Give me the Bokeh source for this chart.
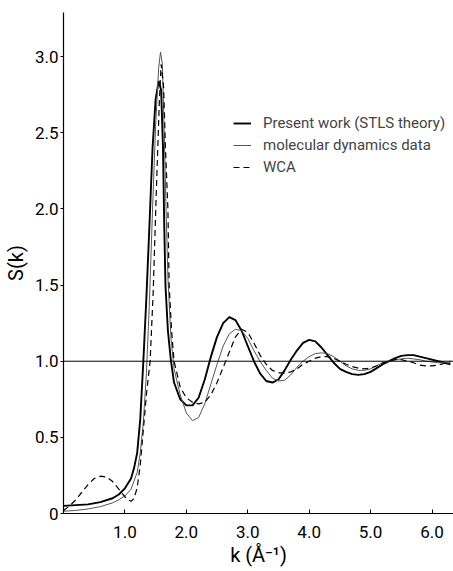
from bokeh.plotting import figure
from bokeh.models import FixedTicker, Span, Legend, LegendItem
from bokeh.embed import file_html
from bokeh.resources import INLINE

# STLS theory (present work)
k_stls = [0.0, 0.2, 0.4, 0.6, 0.8, 0.9, 1.0, 1.1, 1.15, 1.2, 1.25, 1.30, 1.35, 1.40, 1.45, 1.50, 1.55,
          1.59, 1.62, 1.64, 1.66, 1.70, 1.75, 1.80, 1.9, 2.0, 2.1, 2.2, 2.3, 2.4, 2.5, 2.6, 2.7, 2.8,
          2.9, 3.0, 3.1, 3.2, 3.3, 3.4, 3.5, 3.6, 3.7, 3.8, 3.9, 4.0, 4.1, 4.2, 4.3, 4.4, 4.5, 4.6,
          4.7, 4.8, 4.9, 5.0, 5.1, 5.2, 5.3, 5.4, 5.5, 5.6, 5.7, 5.8, 5.9, 6.0, 6.1, 6.2, 6.3]
s_stls = [0.05, 0.055, 0.06, 0.075, 0.10, 0.125, 0.165, 0.23, 0.30, 0.40, 0.62, 1.00, 1.42, 1.90, 2.40, 2.72, 2.84,
          2.78, 2.40, 1.90, 1.50, 1.20, 1.00, 0.86, 0.75, 0.71, 0.71, 0.76, 0.88, 1.03, 1.16, 1.25, 1.29, 1.27,
          1.20, 1.10, 1.00, 0.92, 0.87, 0.86, 0.88, 0.94, 1.01, 1.07, 1.12, 1.14, 1.13, 1.09, 1.04, 0.99, 0.95, 0.93,
          0.915, 0.91, 0.915, 0.93, 0.955, 0.98, 1.0, 1.02, 1.035, 1.04, 1.04, 1.03, 1.02, 1.01, 1.0, 0.99, 0.98]

# molecular dynamics data
k_md = [0.0, 0.2, 0.4, 0.6, 0.8, 0.9, 1.0, 1.1, 1.2, 1.25, 1.30, 1.35, 1.40, 1.45, 1.50, 1.55, 1.58,
        1.61, 1.64, 1.67, 1.70, 1.75, 1.80, 1.9, 2.0, 2.1, 2.2, 2.3, 2.4, 2.5, 2.6, 2.7, 2.8, 2.9,
        3.0, 3.1, 3.2, 3.3, 3.4, 3.5, 3.6, 3.7, 3.8, 3.9, 4.0, 4.1, 4.2, 4.3, 4.4, 4.5, 4.6, 4.7,
        4.8, 4.9, 5.0, 5.1, 5.2, 5.3, 5.4, 5.5, 5.6, 5.7, 5.8, 5.9, 6.0, 6.1, 6.2, 6.3]
s_md = [0.015, 0.02, 0.03, 0.045, 0.07, 0.09, 0.115, 0.16, 0.27, 0.40, 0.60, 0.92, 1.40, 2.00, 2.55, 2.93, 3.03,
        2.95, 2.50, 2.00, 1.55, 1.15, 0.95, 0.78, 0.66, 0.61, 0.63, 0.72, 0.85, 0.98, 1.10, 1.18, 1.21, 1.20,
        1.15, 1.07, 1.00, 0.94, 0.89, 0.87, 0.875, 0.91, 0.96, 1.00, 1.03, 1.05, 1.055, 1.05, 1.03, 1.00, 0.97, 0.95,
        0.94, 0.94, 0.95, 0.97, 0.99, 1.00, 1.01, 1.015, 1.02, 1.015, 1.01, 1.0, 0.995, 0.99, 0.99, 0.99]

# WCA
k_wca = [0.0, 0.1, 0.2, 0.3, 0.4, 0.5, 0.6, 0.7, 0.8, 0.9, 1.0, 1.05, 1.1, 1.15, 1.2, 1.25, 1.30, 1.35,
         1.41, 1.46, 1.51, 1.56, 1.59, 1.63, 1.66, 1.70, 1.72, 1.76, 1.80, 1.9, 2.0, 2.1, 2.2, 2.3, 2.4,
         2.5, 2.6, 2.7, 2.8, 2.9, 3.0, 3.1, 3.2, 3.3, 3.4, 3.5, 3.6, 3.7, 3.8, 3.9, 4.0, 4.1, 4.2, 4.3,
         4.4, 4.5, 4.6, 4.7, 4.8, 4.9, 5.0, 5.1, 5.2, 5.3, 5.4, 5.5, 5.6, 5.7, 5.8, 5.9, 6.0, 6.1, 6.2, 6.3]
s_wca = [0.02, 0.05, 0.09, 0.14, 0.19, 0.23, 0.245, 0.24, 0.21, 0.16, 0.11, 0.09, 0.08, 0.10, 0.17, 0.32, 0.55, 0.78,
         1.00, 1.45, 2.10, 2.70, 2.95, 2.80, 2.40, 2.00, 1.50, 1.20, 1.00, 0.83, 0.76, 0.73, 0.72, 0.73, 0.78,
         0.86, 0.96, 1.06, 1.16, 1.21, 1.19, 1.12, 1.04, 0.98, 0.94, 0.925, 0.92, 0.93, 0.95, 0.98, 1.00, 1.02, 1.03, 1.03,
         1.02, 1.00, 0.98, 0.965, 0.955, 0.95, 0.955, 0.97, 0.99, 1.00, 1.01, 1.01, 1.0, 0.99, 0.975, 0.97, 0.97, 0.975, 0.985, 1.0]

y_ticks = [0, 0.5, 1.0, 1.5, 2.0, 2.5, 3.0]
y_tick_labels = ["0", "0.5", "1.0", "1.5", "2.0", "2.5", "3.0"]
x_ticks = [1, 2, 3, 4, 5, 6]
x_tick_labels = ["1.0", "2.0", "3.0", "4.0", "5.0", "6.0"]
legend_labels = ["Present work (STLS theory)", "molecular dynamics data", "WCA"]

FONT = "Roboto"

p = figure(width=453, height=571, output_backend="svg", toolbar_location=None,
           x_range=(0, 6.35), y_range=(0, 3.29),
           min_border_left=62, min_border_right=0, min_border_top=12, min_border_bottom=58)
p.outline_line_color = None
p.background_fill_color = "white"
p.border_fill_color = "white"
p.grid.visible = False

p.yaxis.ticker = FixedTicker(ticks=y_ticks)
p.yaxis.major_label_overrides = {t: l for t, l in zip(y_ticks, y_tick_labels)}
p.xaxis.ticker = FixedTicker(ticks=x_ticks)
p.xaxis.major_label_overrides = {t: l for t, l in zip(x_ticks, x_tick_labels)}

for ax in (p.xaxis, p.yaxis):
    ax.minor_tick_line_color = None
    ax.axis_line_color = "black"
    ax.axis_line_width = 1.2
    ax.major_tick_line_color = "black"
    ax.major_label_text_font = FONT
    ax.major_label_text_font_size = "17px"
    ax.major_label_text_color = "black"
    ax.axis_label_text_font = FONT
    ax.axis_label_text_font_style = "normal"
    ax.axis_label_text_font_size = "20px"
    ax.axis_label_text_color = "black"

p.xaxis.major_tick_in = 4
p.xaxis.major_tick_out = 0
p.xaxis.major_label_standoff = 12
p.xaxis.axis_label = "k (Å⁻¹)"
p.xaxis.axis_label_standoff = 2
p.yaxis.major_tick_in = 0
p.yaxis.major_tick_out = 3
p.yaxis.major_label_standoff = 2
p.yaxis.axis_label = "S(k)"
p.yaxis.axis_label_standoff = 4

p.add_layout(Span(location=1.0, dimension="width", line_color="black", line_width=1))

r1 = p.line(k_stls, s_stls, line_color="black", line_width=1.9)
r2 = p.line(k_md, s_md, line_color="#555555", line_width=1)
r3 = p.line(k_wca, s_wca, line_color="black", line_width=1.2, line_dash="6 4")

legend = Legend(items=[LegendItem(label=legend_labels[0], renderers=[r1]),
                       LegendItem(label=legend_labels[1], renderers=[r2]),
                       LegendItem(label=legend_labels[2], renderers=[r3])],
                location=(170, 336), border_line_color=None, background_fill_alpha=0,
                label_text_font=FONT, label_text_font_size="15px", glyph_width=18,
                label_standoff=12, spacing=2, padding=0, margin=0, label_height=20, glyph_height=20)
p.add_layout(legend)

open("out.html", "w").write(file_html(p, INLINE))
